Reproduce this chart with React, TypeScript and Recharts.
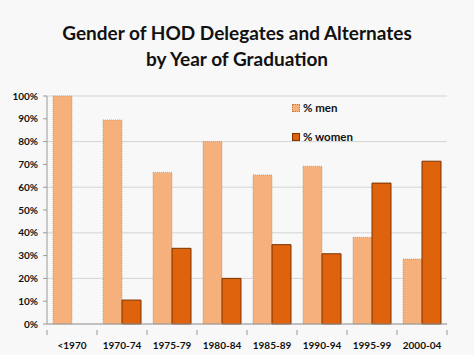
import { BarChart, Bar, XAxis, YAxis, CartesianGrid } from 'recharts';

const categories = ['<1970', '1970-74', '1975-79', '1980-84', '1985-89', '1990-94', '1995-99', '2000-04'];
const menPct = [100, 89.5, 66.5, 80, 65.4, 69.2, 38, 28.5];
const womenPct = [0, 10.5, 33.2, 20, 34.8, 30.8, 61.8, 71.4];
const yTicks = [0, 10, 20, 30, 40, 50, 60, 70, 80, 90, 100];

const MEN = '#f5b07c';
const WOMEN = '#df620c';
const AXIS = '#9a9a9a';

const data = categories.map((c, i) => ({ cat: c, men: menPct[i], women: womenPct[i] }));

const font = 'Lato, "Open Sans", Arial, sans-serif';
const PLOT_W = 400;

// category ticks with tick marks on the band boundaries, like the original
const CatTick = (props: any) => {
  const { x, y, payload, index } = props;
  const half = PLOT_W / categories.length / 2;
  const top = y - 12;
  return (
    <g>
      <line x1={x - half} x2={x - half} y1={top} y2={top + 5} stroke={AXIS} />
      {index === categories.length - 1 && <line x1={x + half} x2={x + half} y1={top} y2={top + 5} stroke={AXIS} />}
      <text x={x} y={y} dy={7} textAnchor="middle" fontSize={10} fontWeight={700} fill="#111" fontFamily={font}>
        {payload.value}
      </text>
    </g>
  );
};

export default function App() {
  return (
    <div style={{ position: 'absolute', left: 0, top: 0, width: 474, height: 355, background: '#f8f8f8', fontFamily: font }}>
      <div style={{ position: 'absolute', top: 20, width: 474, textAlign: 'center', fontSize: 19, fontWeight: 700, lineHeight: '26px', color: '#111' }}>
        Gender of HOD Delegates and Alternates
        <br />
        by Year of Graduation
      </div>
      <BarChart
        width={474}
        height={355}
        data={data}
        margin={{ top: 96, right: 27, bottom: 0, left: 0 }}
        barCategoryGap={6}
        barGap={0}
      >
        <CartesianGrid horizontal vertical={false} stroke="#d4d4d4" />
        <XAxis
          dataKey="cat"
          stroke={AXIS}
          tickLine={false}
          tickMargin={12}
          height={31}
          tick={<CatTick />}
          interval={0}
        />
        <YAxis
          domain={[0, 100]}
          ticks={yTicks}
          tickFormatter={(v) => `${v}%`}
          width={47}
          tickSize={4}
          tickMargin={5}
          stroke={AXIS}
          tick={{ fontSize: 10, fontWeight: 700, fill: '#111', fontFamily: font }}
        />
        <Bar dataKey="men" fill={MEN} stroke="#b88050" strokeWidth={0.6} strokeDasharray="1 1" isAnimationActive={false} />
        <Bar dataKey="women" fill={WOMEN} stroke="#7a3300" strokeWidth={1} isAnimationActive={false} />
      </BarChart>
      <div style={{ position: 'absolute', left: 292, top: 101, fontSize: 11.5, fontWeight: 700, color: '#111', lineHeight: '14px' }}>
        <div style={{ display: 'flex', alignItems: 'center' }}>
          <span style={{ width: 8, height: 8, background: MEN, border: '1px dotted #b88050', boxSizing: 'border-box', marginRight: 3 }} />
          % men
        </div>
        <div style={{ display: 'flex', alignItems: 'center', marginTop: 15 }}>
          <span style={{ width: 8, height: 8, background: WOMEN, border: '1px solid #7a3300', boxSizing: 'border-box', marginRight: 3 }} />
          % women
        </div>
      </div>
    </div>
  );
}
